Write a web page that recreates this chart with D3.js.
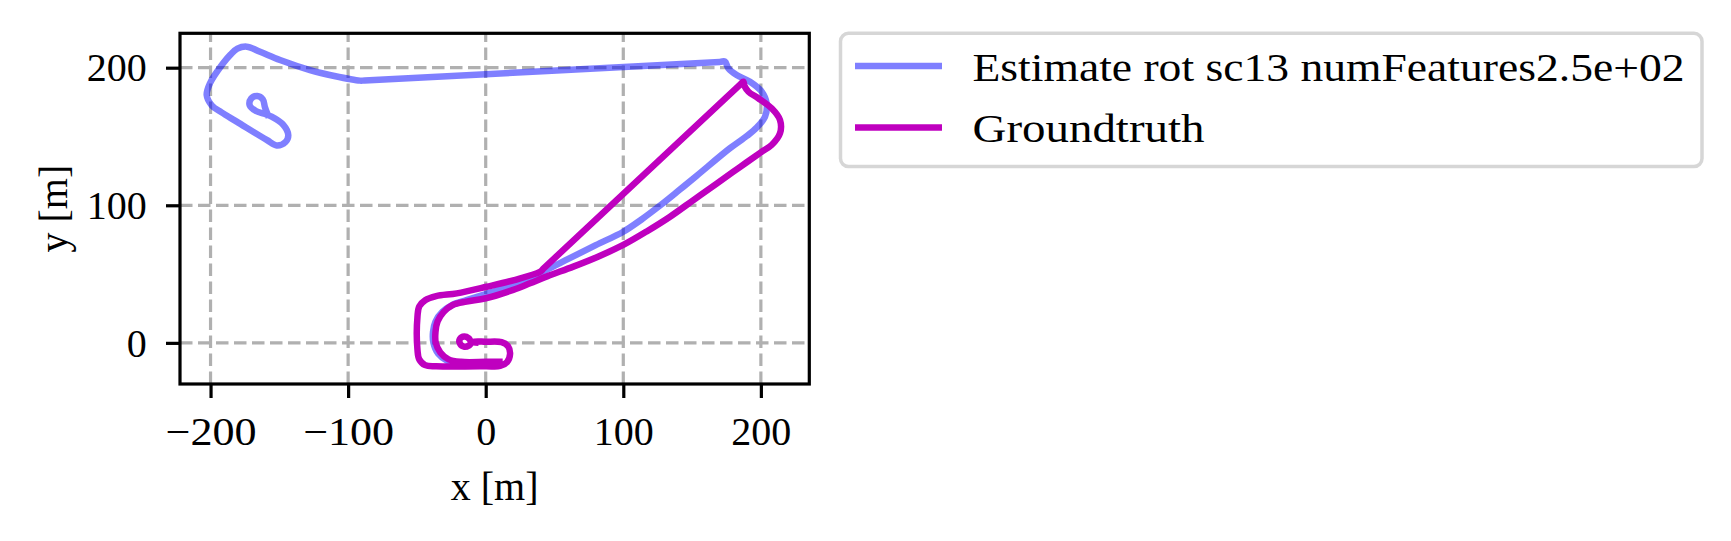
<!DOCTYPE html>
<html>
<head>
<meta charset="utf-8">
<script src="https://cdn.jsdelivr.net/npm/d3@7"></script>
<style>
  html, body { margin: 0; padding: 0; background: #ffffff; }
  svg { display: block; }
  text { font-family: "Liberation Serif", "Times New Roman", serif; fill: #000; }
</style>
</head>
<body>
<svg id="chart" width="1731" height="541"></svg>
<script>
// ---------------- data ----------------
const seriesNames = ["Estimate rot sc13 numFeatures2.5e+02", "Groundtruth"];
const xTicks = [-200, -100, 0, 100, 200];
const yTicks = [0, 100, 200];
const xLabel = "x [m]";
const yLabel = "y [m]";

const estimateX = [8, -18, -28, -34.5, -38, -38.3, -36.5, -31.5, -24.5, -14, 0, 20, 32.2, 45, 60, 80, 100, 113, 126.7, 140, 153.4, 177.6,
  190, 197, 203, 204.2, 200.6, 192.1, 182.4, 176.3, 173.9, 170, -88, -91.4, -110, -127.7, -149.5, -164, -173.7,
  -180.5, -185.5, -191, -200.4, -202.8, -199, -192, -181, -159.2, -152, -145.5, -143.5, -147.1, -155.6, -161, -167,
  -171.5, -170.5, -166, -162, -160.5, -158.5];
const estimateY = [-14.8, -14.8, -13, -8, 0, 8, 15.5, 22.5, 27.5, 31, 35.5, 42, 47.6, 53.5, 61, 71, 80.8, 89.5, 99.8, 110.5, 121.5, 141.5,
  150.5, 156.5, 164.4, 174.1, 182.6, 189.8, 194.7, 199.6, 204.4, 204.2, 190.7, 190.6, 194, 198.3, 205.6, 211.6, 215.3,
  213.8, 209.5, 203, 188.7, 180.2, 172.5, 167.5, 160.8, 147.5, 143.5, 146, 151, 158.4, 164.4, 166.5, 168.5,
  172.5, 177.5, 179.5, 177, 171.5, 166];

const groundtruthX = [10, 0, -18, -27, -33, -36.3, -36.5, -35, -30.5, -24, -14, 0, 20, 32.2, 45, 63.7, 82, 100, 117, 134, 151, 167.9,
  184, 200, 207.8, 213.9, 213.9, 207.8, 198.1, 191, 188.2, 187.2, 184.5, 42.5, 39.5, 20, 0.7, -21, -36, -44, -48.3, -49.6,
  -49.6, -48.3, -44, -36, 0, 10.5, 15.5, 17.7, 16.3, 11.5, 0, -9.5, -12, -15.5, -18.6, -18.8, -15.5, -12.3, -10.5, -7.5];
const groundtruthY = [-13.7, -13.8, -13.8, -12, -7, 0, 8, 15.5, 22.5, 27.5, 30, 32.4, 38.5, 43.3, 48.5, 55.4, 62.8, 71.2, 81, 91.7, 103.8, 115.8,
  127.2, 138.5, 143.8, 152.3, 162, 170.5, 177.8, 182.5, 186.5, 189.8, 187.3, 54.5, 51.7, 45.5, 40.8, 36, 34, 31, 26.5, 19,
  -5, -12, -16.2, -17, -17, -16.8, -14, -8, -2.5, 0.5, 0.8, 0.6, -1.8, -2.8, -0.8, 2.8, 4.6, 3.3, 0.9, 0.2];

// ---------------- layout ----------------
const svg = d3.select("#chart");
const plot = { left: 180, right: 809.3, top: 33.3, bottom: 384 };
const xDomain = [-222.2, 235.2];
const yDomain = [-29.9, 225];
const FS = 40;

const x = d3.scaleLinear().domain(xDomain).range([plot.left, plot.right]);
const y = d3.scaleLinear().domain(yDomain).range([plot.bottom, plot.top]);

svg.append("rect").attr("width", 1731).attr("height", 541).attr("fill", "#fff");

// grid
const grid = svg.append("g");
grid.selectAll("line.gx").data(xTicks).enter().append("line")
  .attr("x1", d => x(d)).attr("x2", d => x(d))
  .attr("y1", plot.bottom).attr("y2", plot.top)
  .attr("stroke", "#b0b0b0").attr("stroke-width", 3.2).attr("stroke-dasharray", "12.5,5.5");
grid.selectAll("line.gy").data(yTicks).enter().append("line")
  .attr("y1", d => y(d)).attr("y2", d => y(d))
  .attr("x1", plot.left).attr("x2", plot.right)
  .attr("stroke", "#b0b0b0").attr("stroke-width", 3.2).attr("stroke-dasharray", "12.5,5.5");

// lines
svg.append("clipPath").attr("id", "clip").append("rect")
  .attr("x", plot.left).attr("y", plot.top)
  .attr("width", plot.right - plot.left).attr("height", plot.bottom - plot.top);

const lineGen = d3.line().x(d => x(d[0])).y(d => y(d[1])).curve(d3.curveCatmullRom.alpha(0.5));
const estimate = estimateX.map((v, i) => [v, estimateY[i]]);
const groundtruth = groundtruthX.map((v, i) => [v, groundtruthY[i]]);
const colors = ["#0000ff", "#bf00bf"];
const opac = [0.5, 1];

const lines = svg.append("g").attr("clip-path", "url(#clip)");
[estimate, groundtruth].forEach((pts, i) => {
  lines.append("path").datum(pts).attr("d", lineGen)
    .attr("fill", "none").attr("stroke", colors[i]).attr("stroke-opacity", opac[i])
    .attr("stroke-width", 6.5).attr("stroke-linejoin", "round").attr("stroke-linecap", "square");
});

// axes
const xAxis = svg.append("g").attr("transform", `translate(0,${plot.bottom})`)
  .call(d3.axisBottom(x).tickValues(xTicks).tickSize(14).tickSizeOuter(0));
const yAxis = svg.append("g").attr("transform", `translate(${plot.left},0)`)
  .call(d3.axisLeft(y).tickValues(yTicks).tickSize(14).tickSizeOuter(0));
[xAxis, yAxis].forEach(a => {
  a.select(".domain").remove();
  a.selectAll(".tick line").attr("stroke", "#000").attr("stroke-width", 3.2);
  a.selectAll(".tick text").attr("font-family", "Liberation Serif").attr("font-size", FS).attr("fill", "#000");
});
xAxis.selectAll(".tick text").attr("y", 61).attr("dy", 0);
xAxis.selectAll(".tick text").filter(d => d < 0).attr("textLength", 91).attr("lengthAdjust", "spacingAndGlyphs");
yAxis.selectAll(".tick text").attr("x", -33.3).attr("dy", "0.33em");

// spines
svg.append("rect").attr("x", plot.left).attr("y", plot.top)
  .attr("width", plot.right - plot.left).attr("height", plot.bottom - plot.top)
  .attr("fill", "none").attr("stroke", "#000").attr("stroke-width", 3.2).attr("stroke-linejoin", "miter");

// axis labels
svg.append("text").attr("x", (plot.left + plot.right) / 2).attr("y", 500)
  .attr("text-anchor", "middle").attr("font-size", FS).text(xLabel);
svg.append("text").attr("transform", `translate(67,${(plot.top + plot.bottom) / 2}) rotate(-90)`)
  .attr("text-anchor", "middle").attr("font-size", FS).text(yLabel);

// legend
const leg = svg.append("g");
leg.append("rect").attr("x", 840.5).attr("y", 33.3).attr("width", 1702 - 840.5).attr("height", 166.5 - 33.3)
  .attr("rx", 8).attr("ry", 8).attr("fill", "#fff").attr("fill-opacity", 0.8)
  .attr("stroke", "#cccccc").attr("stroke-opacity", 0.8).attr("stroke-width", 3.5);
const legY = [66, 127.5];
const legW = [712, 232];
seriesNames.forEach((name, i) => {
  leg.append("line").attr("x1", 855).attr("x2", 942).attr("y1", legY[i]).attr("y2", legY[i])
    .attr("stroke", colors[i]).attr("stroke-opacity", opac[i]).attr("stroke-width", 6.5);
  leg.append("text").attr("x", 972.5).attr("y", legY[i] + 14.5).attr("font-size", FS)
    .attr("textLength", legW[i]).attr("lengthAdjust", "spacingAndGlyphs").text(name);
});
</script>
</body>
</html>
